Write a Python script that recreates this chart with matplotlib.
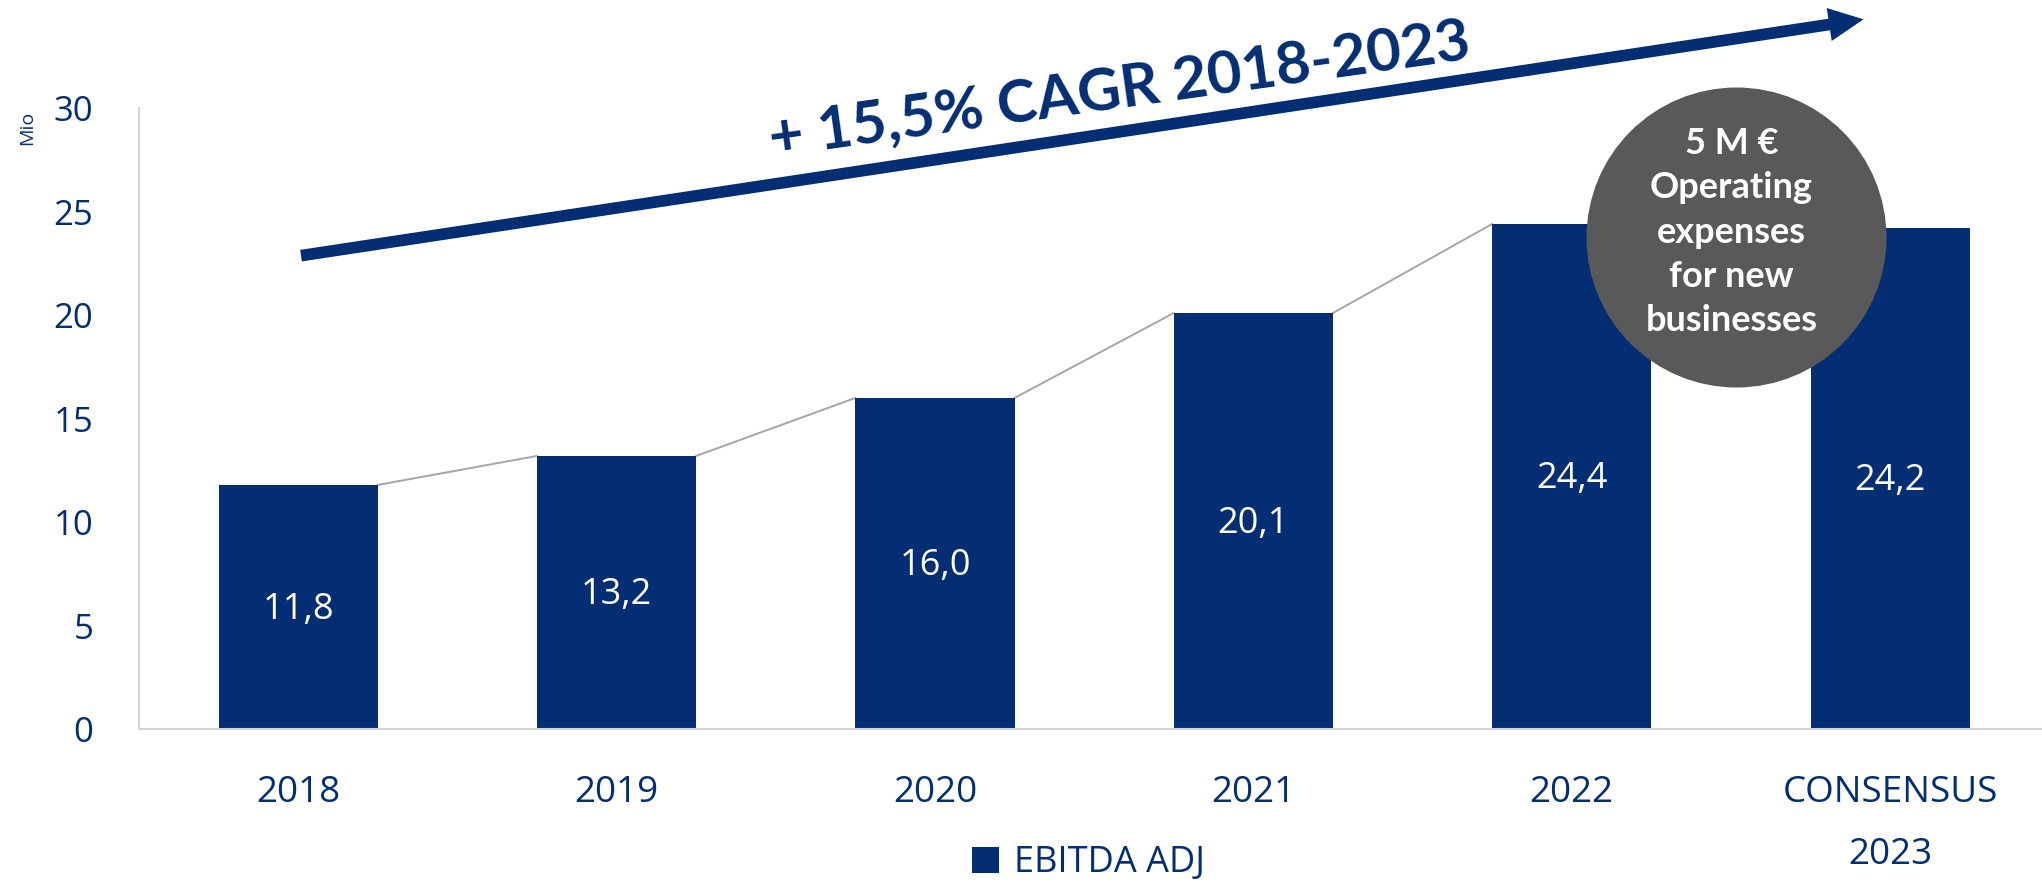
import matplotlib
matplotlib.use('Agg')
import matplotlib.pyplot as plt
from matplotlib.patches import FancyArrowPatch

# ---- data ----
categories = ['2018', '2019', '2020', '2021', '2022', 'CONSENSUS\n2023']
ebitda = [11.8, 13.2, 16.0, 20.1, 24.4, 24.2]
value_labels = ['11,8', '13,2', '16,0', '20,1', '24,4', '24,2']
yticks = [0, 5, 10, 15, 20, 25, 30]
series_name = 'EBITDA ADJ'
unit_label = 'Mio'
cagr_text = '+ 15,5% CAGR 2018-2023'
note_text = '5 M €\nOperating\nexpenses\nfor new\nbusinesses'

NAVY = '#032E73'
GREY_CIRCLE = '#595959'
plt.rcParams['font.family'] = ['Open Sans', 'DejaVu Sans']

fig = plt.figure(figsize=(20.42, 8.82), dpi=100)
ax = fig.add_axes([0.0681, 0.1731, 0.9355, 0.7045])

x = list(range(len(categories)))
bar_w = 0.5
bars = ax.bar(x, ebitda, width=bar_w, color=NAVY, label=series_name, zorder=2)

# series lines (connect top right of one bar to top left of the next)
for i in range(len(ebitda) - 1):
    ax.plot([x[i] + bar_w / 2, x[i + 1] - bar_w / 2], [ebitda[i], ebitda[i + 1]],
            color='#A6A6A6', lw=1.4, zorder=1)

# value labels inside bars
for xi, v, lab in zip(x, ebitda, value_labels):
    ax.text(xi, v / 2 - 0.12, lab, ha='center', va='center', color='white', fontsize=26, zorder=3)

ax.set_xlim(-0.5, 5.5)
ax.set_ylim(0, 30)
ax.set_xticks(x, categories)
ax.set_yticks(yticks)
ax.tick_params(axis='x', length=0, pad=33, labelsize=26.5, labelcolor=NAVY)
ax.tick_params(axis='y', length=0, pad=33, labelsize=25, labelcolor=NAVY)
for t in ax.get_xticklabels():
    t.set_linespacing(1.95)

for s in ['top', 'right']:
    ax.spines[s].set_visible(False)
for s in ['left', 'bottom']:
    ax.spines[s].set_color('#D4D4D4')
    ax.spines[s].set_linewidth(1.5)

# growth arrow
arrow = FancyArrowPatch((0, 22.85), (4.925, 34.3),
                        arrowstyle='simple,head_length=25,head_width=24,tail_width=8.4',
                        mutation_scale=1, color=NAVY, lw=0, clip_on=False, zorder=5)
ax.add_patch(arrow)
ax.text(2.58, 30.85, cagr_text, rotation=8, rotation_mode='anchor', ha='center', va='center',
        fontsize=43, fontweight='bold', family=['Lato', 'DejaVu Sans'], color=NAVY,
        clip_on=False, zorder=6)

# grey circle note
ax.scatter([4.517], [23.77], s=216 ** 2, color=GREY_CIRCLE, linewidths=0, zorder=4, clip_on=False)
ax.text(4.501, 24.0, note_text, ha='center', va='center', fontsize=26, fontweight='bold',
        family=['Lato', 'DejaVu Sans'], color='white', linespacing=1.42, zorder=6)

# unit label
fig.text(26.7 / 2042, 1 - 128 / 882, unit_label, rotation=90, fontsize=14, color=NAVY,
         ha='center', va='center')

# legend
fig.legend(handles=[bars], labels=[series_name], loc='center', bbox_to_anchor=(0.533, 0.021),
           frameon=False, prop=dict(family='Open Sans', size=26), handlelength=0.75,
           handleheight=0.75, handletextpad=0.4, labelcolor=NAVY, borderpad=0, borderaxespad=0)

fig.savefig('out.png', dpi=100)
